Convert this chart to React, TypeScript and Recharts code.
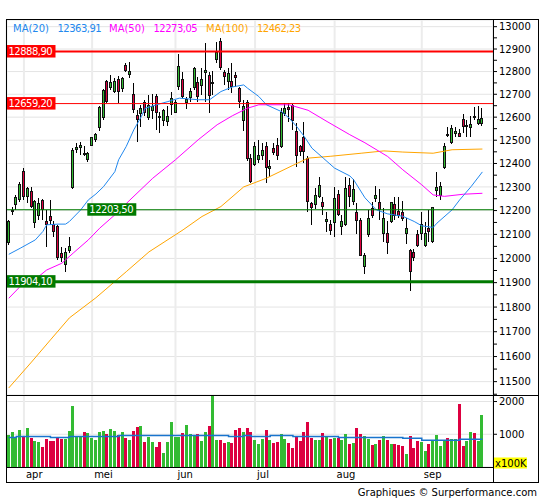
import React from "react";
import { ComposedChart, Bar, Line, XAxis, YAxis, ReferenceLine, CartesianGrid } from "recharts";

const FONT = "'DejaVu Sans', Verdana, sans-serif";
const GREEN = "#33bb33";
const RED = "#dd0040";
const BLUE = "#2288ee";
const MAGENTA = "#ff00ff";
const ORANGE = "#ffa500";

const months = ["apr", "mei", "jun", "jul", "aug", "sep"];
const monthStarts = [4, 22, 44, 65, 86, 109];

const opens = [
  12063, 12196, 12222, 12245, 12368, 12259, 12283, 12147, 12175, 12245, 12154, 12178, 12143, 12136, 12022, 11973,
  12032, 12295, 12456, 12466, 12444, 12416, 12476, 12502, 12552, 12596, 12759, 12727, 12712, 12767, 12722, 12827,
  12785, 12702, 12610, 12613, 12668, 12596, 12625, 12693, 12606, 12585, 12581, 12654, 12620, 12734, 12767, 12661,
  12683, 12727, 12756, 12737, 12793, 12785, 12744, 12851, 12934, 12796, 12756, 12760, 12785, 12727, 12585, 12664,
  12423, 12394, 12413, 12430, 12476, 12376, 12466, 12479, 12470, 12613, 12646, 12654, 12541, 12473, 12516, 12423,
  12231, 12224, 12259, 12234, 12150, 12144, 12147, 12270, 12130, 12140, 12309, 12238, 12196, 12161, 11965, 12098,
  12210, 12249, 12235, 12102, 12105, 12150, 12227, 12200, 12196, 12102, 12035, 12026, 12102, 12101, 12052, 12126,
  12070, 12284, 12262, 12380, 12526, 12488, 12526, 12531, 12593, 12557, 12552, 12603, 12570, 12571,
];
const highs = [
  12161, 12217, 12266, 12323, 12380, 12301, 12301, 12245, 12252, 12248, 12203, 12245, 12154, 12140, 12049, 12042,
  12091, 12466, 12487, 12494, 12473, 12451, 12516, 12533, 12649, 12722, 12763, 12785, 12771, 12781, 12778, 12837,
  12843, 12749, 12632, 12654, 12676, 12697, 12700, 12702, 12624, 12635, 12649, 12712, 12676, 12879, 12800, 12690,
  12727, 12822, 12778, 12815, 12926, 12799, 12804, 12932, 12949, 12808, 12815, 12840, 12800, 12734, 12676, 12676,
  12440, 12494, 12502, 12488, 12494, 12416, 12487, 12510, 12639, 12662, 12661, 12658, 12574, 12480, 12577, 12430,
  12238, 12295, 12344, 12257, 12196, 12161, 12301, 12287, 12182, 12341, 12337, 12333, 12231, 12168, 12022, 12203,
  12238, 12304, 12290, 12210, 12154, 12238, 12259, 12259, 12242, 12168, 12038, 12038, 12119, 12196, 12150, 12203,
  12217, 12365, 12323, 12487, 12559, 12567, 12559, 12548, 12614, 12588, 12603, 12646, 12650, 12639,
];
const lows = [
  12056, 12182, 12203, 12238, 12245, 12231, 12210, 12126, 12161, 12161, 12049, 12140, 12091, 11994, 11987, 11943,
  12022, 12290, 12444, 12437, 12430, 12408, 12473, 12494, 12538, 12588, 12661, 12720, 12705, 12661, 12712, 12800,
  12771, 12617, 12494, 12559, 12603, 12588, 12590, 12545, 12531, 12562, 12562, 12610, 12617, 12719, 12683, 12635,
  12668, 12719, 12664, 12697, 12668, 12620, 12697, 12837, 12808, 12740, 12719, 12705, 12734, 12639, 12538, 12412,
  12316, 12390, 12403, 12416, 12316, 12344, 12437, 12416, 12466, 12603, 12581, 12545, 12384, 12433, 12401, 12196,
  12140, 12207, 12252, 12182, 12112, 12098, 12091, 12178, 12098, 12133, 12217, 12224, 12102, 12010, 11935, 12091,
  12168, 12238, 12161, 12070, 12019, 12147, 12161, 12168, 12154, 12060, 11867, 11991, 12049, 12077, 12049, 12070,
  12066, 12259, 12245, 12376, 12516, 12484, 12516, 12513, 12531, 12516, 12516, 12588, 12567, 12562,
];
const closes = [
  12154, 12203, 12259, 12312, 12259, 12297, 12217, 12241, 12231, 12203, 12140, 12154, 12108, 12001, 12001, 12028,
  12052, 12459, 12470, 12480, 12437, 12444, 12512, 12526, 12646, 12719, 12668, 12752, 12759, 12712, 12771, 12804,
  12804, 12629, 12588, 12639, 12620, 12654, 12650, 12620, 12600, 12632, 12603, 12684, 12668, 12825, 12690, 12679,
  12716, 12815, 12690, 12767, 12808, 12693, 12753, 12888, 12815, 12778, 12793, 12731, 12771, 12668, 12649, 12419,
  12323, 12476, 12437, 12457, 12380, 12390, 12444, 12430, 12623, 12639, 12629, 12584, 12430, 12451, 12448, 12238,
  12210, 12266, 12309, 12214, 12165, 12116, 12252, 12182, 12157, 12297, 12257, 12292, 12157, 12012, 12015, 12168,
  12175, 12266, 12203, 12168, 12066, 12234, 12175, 12175, 12165, 12126, 11945, 12003, 12052, 12144, 12105, 12110,
  12214, 12299, 12304, 12476, 12523, 12552, 12541, 12516, 12559, 12567, 12571, 12600, 12593, 12596,
];
const volumes = [
  970, 1060, 930, 1120, 920, 1180, 880, 790, 760, 610, 850, 790, 790, 890, 850, 850,
  1090, 1870, 930, 930, 1060, 1030, 900, 830, 1060, 1090, 1000, 1150, 1090, 970, 1060, 880,
  820, 1090, 1210, 1240, 760, 910, 760, 610, 760, 430, 760, 1390, 910, 910, 1030, 1270,
  1000, 970, 1000, 790, 1060, 1240, 2300, 820, 820, 730, 760, 730, 1120, 1180, 1060, 1180,
  1060, 820, 700, 850, 1120, 820, 740, 760, 1000, 850, 730, 580, 910, 790, 1060, 1360,
  880, 820, 820, 1030, 940, 850, 880, 880, 820, 1000, 700, 730, 1180, 1000, 940, 850,
  670, 700, 820, 940, 820, 700, 700, 670, 640, 400, 940, 580, 790, 760, 490, 700,
  820, 970, 640, 790, 880, 850, 850, 1930, 640, 790, 1060, 1030, 790, 1600,
];

// moving averages at these candle positions
const ma20Points: [number, number][] = [
  [0, 12017], [3, 12042], [7, 12077], [9, 12112], [10, 12140], [13, 12143], [15, 12143], [16, 12154], [19, 12203],
  [21, 12245], [23, 12270], [25, 12301], [28, 12365], [29, 12416], [31, 12473], [33, 12545], [35, 12603], [36, 12639],
  [39, 12654], [42, 12668], [45, 12683], [50, 12676], [53, 12676], [56, 12712], [59, 12732], [62, 12741], [63, 12727],
  [66, 12690], [68, 12654], [72, 12624], [74, 12596], [76, 12559], [78, 12516], [80, 12466], [83, 12423], [86, 12380],
  [90, 12347], [91, 12331], [94, 12254], [97, 12203], [100, 12186], [104, 12176], [107, 12154], [109, 12136],
  [112, 12129], [113, 12147], [117, 12203], [119, 12245], [122, 12301], [125, 12364],
];
const ma50Points: [number, number][] = [
  [0, 11836], [3, 11884], [7, 11914], [10, 11952], [14, 11980], [17, 12022], [21, 12077], [24, 12126], [28, 12182],
  [32, 12245], [38, 12337], [44, 12416], [50, 12502], [55, 12567], [59, 12606], [63, 12639], [66, 12654], [74, 12654],
  [79, 12630], [84, 12581], [90, 12524], [94, 12489], [100, 12430], [104, 12373], [109, 12309], [112, 12266],
  [115, 12260], [120, 12269], [125, 12273],
];
const ma100Points: [number, number][] = [
  [0, 11475], [6, 11578], [11, 11667], [16, 11756], [23, 11838], [31, 11945], [37, 12027], [46, 12119], [51, 12175],
  [56, 12217], [62, 12300], [68, 12337], [75, 12392], [79, 12423], [85, 12431], [93, 12444], [99, 12454],
  [104, 12449], [112, 12444], [117, 12459], [125, 12462],
];
const volAvgPoints: [number, number][] = [
  [0, 900], [2, 930], [11, 900], [16, 930], [29, 960], [58, 930], [62, 960], [64, 930], [69, 960], [75, 930],
  [87, 900], [104, 880], [109, 820], [119, 850], [125, 850],
];

const priceTicks = [
  11450, 11500, 11550, 11600, 11650, 11700, 11750, 11800, 11850, 11900, 11950, 12000, 12050, 12100, 12150, 12200,
  12250, 12300, 12350, 12400, 12450, 12500, 12550, 12600, 12650, 12700, 12750, 12800, 12850, 12900, 12950, 13000,
];
const priceGrid = [
  11500, 11600, 11700, 11800, 11900, 12000, 12100, 12200, 12300, 12400, 12500, 12600, 12700, 12800, 12900, 13000,
];
const volTicks = [1000, 2000];

const levels = [
  { value: 12888.9, text: "12888,90", color: "#ff0000", width: 2, dx: 0 },
  { value: 12659.2, text: "12659,20", color: "#ff0000", width: 1, dx: 0 },
  { value: 12203.5, text: "12203,50", color: "#007a00", width: 1, dx: 80.8 },
  { value: 11904.1, text: "11904,10", color: "#007a00", width: 3, dx: 0 },
];

const legendItems = [
  { text: "MA(20)", x: 13, color: BLUE },
  { text: "12363,91", x: 57.5, color: BLUE, num: true },
  { text: "MA(50)", x: 109, color: MAGENTA },
  { text: "12273,05", x: 153.5, color: MAGENTA, num: true },
  { text: "MA(100)", x: 206, color: ORANGE },
  { text: "12462,23", x: 257, color: ORANGE, num: true },
];

const toMap = (pts: [number, number][]) => new Map(pts.map(([k, v]) => [k, v]));
const m20 = toMap(ma20Points);
const m50 = toMap(ma50Points);
const m100 = toMap(ma100Points);
const mva = toMap(volAvgPoints);

const data = opens.map((o, i) => ({
  i,
  wick: [lows[i], highs[i]],
  body: [Math.min(o, closes[i]), Math.max(o, closes[i])],
  up: closes[i] >= o,
  vol: volumes[i],
  ma20: m20.has(i) ? m20.get(i) : null,
  ma50: m50.has(i) ? m50.get(i) : null,
  ma100: m100.has(i) ? m100.get(i) : null,
  volAvg: mva.has(i) ? mva.get(i) : null,
}));

const X_DOMAIN: [number, number] = [-0.6, 127.8];
const P_DOMAIN: [number, number] = [11447, 13030];

const snapLeft = (x: number, w: number) => Math.round(x + w / 2 - 1.5);

const WickShape = (p: any) => {
  if (p.x == null || p.y == null) return <g />;
  const L = snapLeft(p.x, p.width);
  const y0 = Math.round(p.y);
  const y1 = Math.round(p.y + p.height);
  return <rect x={L + 1} y={y0} width={1} height={Math.max(y1 - y0, 1)} fill="#000" />;
};

const BodyShape = (p: any) => {
  if (p.x == null || p.y == null) return <g />;
  const L = snapLeft(p.x, p.width);
  const y0 = Math.round(p.y);
  let y1 = Math.round(p.y + p.height);
  if (y1 - y0 < 2) y1 = y0 + 2;
  return (
    <rect
      x={L + 0.5}
      y={y0 + 0.5}
      width={2}
      height={y1 - y0 - 1}
      fill={p.payload.up ? GREEN : RED}
      stroke="#111"
      strokeWidth={1}
    />
  );
};

const VolShape = (p: any) => {
  if (p.x == null || p.y == null) return <g />;
  const L = snapLeft(p.x, p.width);
  const y0 = Math.round(p.y);
  const y1 = Math.round(p.y + p.height);
  return <rect x={L} y={y0} width={3} height={Math.max(y1 - y0, 0)} fill={p.payload.up ? GREEN : RED} />;
};

const PriceTick = (p: any) => {
  const v = p.payload?.value;
  if (v == null || v % 100 !== 0) return <g />;
  return (
    <text x={p.x} y={p.y} dy={3.6} textAnchor="start" fontSize={10} fontFamily={FONT} fill="#000">
      {v}
    </text>
  );
};

const VolTick = (p: any) => {
  const v = p.payload?.value;
  return (
    <text x={p.x} y={p.y} dy={3.6} textAnchor="start" fontSize={10} fontFamily={FONT} fill="#000">
      {v}
    </text>
  );
};

const MonthTick = (p: any) => {
  const k = monthStarts.indexOf(p.payload?.value);
  if (k < 0) return <g />;
  return (
    <text x={p.x + 2} y={p.y} dy={11} textAnchor="start" fontSize={10} fontFamily={FONT} fill="#000">
      {months[k]}
    </text>
  );
};

const BoxLabel = (props: any) => {
  const vb = props.viewBox || {};
  const x = (vb.x ?? 0) + props.dx;
  const y = vb.y ?? 0;
  return (
    <g>
      <rect x={x} y={y - 6.5} width={49} height={12.5} fill={props.color} />
      <text
        x={x + 2}
        y={y + 3.6}
        fontSize={10}
        fontFamily={FONT}
        fill="#fff"
        letterSpacing={-0.5}
        textAnchor="start"
      >
        {props.text}
      </text>
    </g>
  );
};

export default function App() {
  return (
    <div style={{ position: "absolute", left: 0, top: 0, width: 545, height: 500, background: "#fff" }}>
      <div style={{ position: "absolute", left: 0, top: 0 }}>
        <ComposedChart width={545} height={395} data={data} margin={{ top: 20, right: 6, bottom: 0, left: 6.5 }}>
          <XAxis xAxisId="w" dataKey="i" type="number" domain={X_DOMAIN} allowDataOverflow hide ticks={monthStarts} interval={0} />
          <XAxis xAxisId="b" dataKey="i" type="number" domain={X_DOMAIN} allowDataOverflow hide />
          <YAxis
            yAxisId="p"
            orientation="right"
            scale="log"
            type="number"
            domain={P_DOMAIN}
            allowDataOverflow
            ticks={priceTicks}
            interval={0}
            tick={<PriceTick />}
            tickSize={4}
            tickMargin={2}
            tickLine={{ stroke: "#000" }}
            axisLine={false}
            width={46}
          />
          <YAxis yAxisId="g" scale="log" type="number" domain={P_DOMAIN} allowDataOverflow ticks={priceGrid} interval={0} hide />
          <CartesianGrid xAxisId="w" yAxisId="g" vertical={false} stroke="#e4e4e4" />
          <CartesianGrid xAxisId="w" yAxisId="g" horizontal={false} stroke="#ececec" strokeWidth={2} />
          <Bar xAxisId="w" yAxisId="p" dataKey="wick" barSize={1} shape={WickShape} isAnimationActive={false} />
          <Bar xAxisId="b" yAxisId="p" dataKey="body" barSize={3} shape={BodyShape} isAnimationActive={false} />
          <Line xAxisId="w" yAxisId="p" dataKey="ma100" stroke={ORANGE} strokeWidth={1} dot={false} activeDot={false} connectNulls isAnimationActive={false} />
          <Line xAxisId="w" yAxisId="p" dataKey="ma50" stroke={MAGENTA} strokeWidth={1} dot={false} activeDot={false} connectNulls isAnimationActive={false} />
          <Line xAxisId="w" yAxisId="p" dataKey="ma20" stroke={BLUE} strokeWidth={1} dot={false} activeDot={false} connectNulls isAnimationActive={false} />
          {levels.map((l) => (
            <ReferenceLine
              key={l.text}
              xAxisId="w"
              yAxisId="p"
              y={l.value}
              stroke={l.color}
              strokeWidth={l.width}
              label={<BoxLabel text={l.text} color={l.color} dx={l.dx} />}
            />
          ))}
        </ComposedChart>
      </div>
      <div style={{ position: "absolute", left: 0, top: 395 }}>
        <ComposedChart width={545} height={87} data={data} margin={{ top: 0, right: 6, bottom: 0, left: 6.5 }}>
          <XAxis
            dataKey="i"
            type="number"
            domain={X_DOMAIN}
            allowDataOverflow
            ticks={monthStarts}
            interval={0}
            tick={<MonthTick />}
            tickSize={0}
            tickMargin={0}
            tickLine={false}
            axisLine={false}
            height={15}
          />
          <YAxis
            orientation="right"
            type="number"
            domain={[0, 2200]}
            allowDataOverflow
            ticks={volTicks}
            interval={0}
            tick={<VolTick />}
            tickSize={4}
            tickMargin={2}
            tickLine={{ stroke: "#000" }}
            axisLine={false}
            width={46}
          />
          <CartesianGrid vertical={false} stroke="#e4e4e4" />
          <CartesianGrid horizontal={false} stroke="#ececec" strokeWidth={2} />
          <Bar dataKey="vol" barSize={3} shape={VolShape} isAnimationActive={false} />
          <Line dataKey="volAvg" type="stepAfter" stroke="#1874cd" strokeWidth={1.5} dot={false} activeDot={false} connectNulls isAnimationActive={false} />
        </ComposedChart>
      </div>
      <svg
        width={545}
        height={500}
        style={{ position: "absolute", left: 0, top: 0, pointerEvents: "none" }}
      >
        <rect x={6.5} y={19.5} width={532} height={463} fill="none" stroke="#000" strokeWidth={1} />
        <line x1={493.5} y1={19.5} x2={493.5} y2={482.5} stroke="#000" strokeWidth={1} />
        <line x1={6.5} y1={395.5} x2={538.5} y2={395.5} stroke="#000" strokeWidth={1} />
        <line x1={6.5} y1={467.5} x2={493.5} y2={467.5} stroke="#000" strokeWidth={1} />
        {legendItems.map((it) => (
          <text
            key={it.text}
            x={it.x}
            y={31.5}
            fontSize={10}
            fontFamily={FONT}
            fill={it.color}
            letterSpacing={it.num ? -0.5 : 0}
          >
            {it.text}
          </text>
        ))}
        <rect x={494} y={457.5} width={33} height={11} fill="#ffff00" />
        <text x={495} y={466.5} fontSize={10} fontFamily={FONT} fill="#000">
          x100K
        </text>
        <text x={537} y={495.5} fontSize={10} fontFamily={FONT} fill="#000" textAnchor="end">
          Graphiques © Surperformance.com
        </text>
      </svg>
    </div>
  );
}
